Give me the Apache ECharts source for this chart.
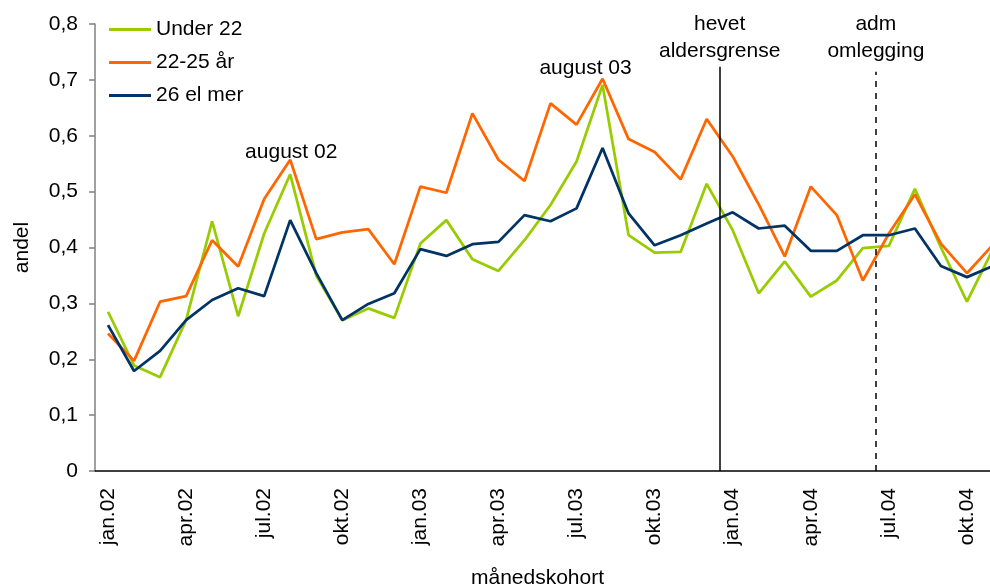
<!DOCTYPE html>
<html>
<head>
<meta charset="utf-8">
<script src="https://cdn.jsdelivr.net/npm/echarts@6/dist/echarts.min.js"></script>
<style>
  html, body { margin: 0; padding: 0; background: #fff; }
  #main { width: 990px; height: 588px; }
</style>
</head>
<body>
<div id="main"></div>
<script>
// månedskohorter jan.02 - nov.04
var months = ['jan', 'feb', 'mar', 'apr', 'mai', 'jun', 'jul', 'aug', 'sep', 'okt', 'nov', 'des']
var categories = []
;['02', '03', '04'].forEach(function (yr) {
  months.forEach(function (m) { categories.push(m + '.' + yr) })
})
categories = categories.slice(0, 35)

var under22 = [0.285, 0.189, 0.168, 0.270, 0.447, 0.277, 0.425, 0.531, 0.350, 0.270, 0.291, 0.274,
  0.407, 0.449, 0.379, 0.358, 0.413, 0.476, 0.554, 0.691, 0.422, 0.391, 0.392, 0.514,
  0.431, 0.318, 0.375, 0.312, 0.341, 0.399, 0.403, 0.505, 0.400, 0.303, 0.397]
var age2225 = [0.246, 0.197, 0.303, 0.313, 0.413, 0.366, 0.487, 0.557, 0.415, 0.427, 0.433, 0.370,
  0.509, 0.498, 0.640, 0.557, 0.519, 0.658, 0.620, 0.702, 0.594, 0.571, 0.522, 0.630,
  0.563, 0.477, 0.384, 0.509, 0.458, 0.341, 0.425, 0.495, 0.407, 0.354, 0.405]
var age26 = [0.261, 0.179, 0.215, 0.270, 0.306, 0.327, 0.313, 0.449, 0.354, 0.270, 0.299, 0.318,
  0.397, 0.385, 0.406, 0.410, 0.458, 0.447, 0.470, 0.578, 0.461, 0.404, 0.422, 0.443,
  0.463, 0.434, 0.439, 0.394, 0.394, 0.422, 0.422, 0.434, 0.367, 0.347, 0.367]

// vertikale markeringer (kategorigrense) og tekster
var eventPos = [24, 30]
var eventText = ['hevet\naldersgrense', 'adm\nomlegging']
var eventTop = [0.7235, 0.7145]
var peakIdx = [7, 19]
var peakText = ['august 02', 'august 03']

var font = 'Liberation Sans, Arial, sans-serif'
var myChart = echarts.init(document.getElementById('main'), null, { renderer: 'canvas' })

var option = {
  backgroundColor: '#fff',
  animation: false,
  textStyle: { fontFamily: font },
  grid: { left: 95, top: 24, right: -16, bottom: 117, containLabel: false, outerBoundsMode: 'none' },
  legend: {
    orient: 'vertical',
    left: 104,
    top: 14,
    itemWidth: 42,
    itemHeight: 3,
    itemGap: 12,
    icon: 'rect',
    textStyle: { fontSize: 21, color: '#000', fontFamily: font, lineHeight: 21 },
    data: ['Under 22', '22-25 år', '26 el mer']
  },
  xAxis: [{
    type: 'category',
    data: categories,
    boundaryGap: true,
    name: 'månedskohort',
    nameLocation: 'middle',
    nameGap: 97,
    nameTextStyle: { fontSize: 21, color: '#000', fontFamily: font, padding: [0, 26, 0, 0] },
    axisLine: { lineStyle: { color: '#000', width: 1.5 } },
    axisTick: { interval: 2, length: 6, lineStyle: { color: '#333', width: 1.5 } },
    axisLabel: { interval: 2, rotate: 90, margin: 17, fontSize: 21, color: '#000', fontFamily: font },
    splitLine: { show: false }
  }, {
    type: 'value',
    min: 0,
    max: 35,
    show: false
  }],
  yAxis: {
    type: 'value',
    min: 0,
    max: 0.8,
    interval: 0.1,
    name: 'andel',
    nameLocation: 'middle',
    nameGap: 62,
    nameTextStyle: { fontSize: 21, color: '#000', fontFamily: font },
    axisLine: { show: true, lineStyle: { color: '#808080', width: 1.5 } },
    axisTick: { show: true, length: 6, lineStyle: { color: '#808080', width: 1.5 } },
    axisLabel: {
      margin: 17, fontSize: 21, color: '#000', fontFamily: font,
      formatter: function (v) { return v === 0 ? '0' : v.toFixed(1).replace('.', ',') }
    },
    splitLine: { show: false }
  },
  series: [
    {
      name: 'Under 22',
      type: 'line',
      data: under22,
      showSymbol: false,
      lineStyle: { color: '#99cc00', width: 2.75 },
      itemStyle: { color: '#99cc00' }
    },
    {
      name: '22-25 år',
      type: 'line',
      data: age2225,
      showSymbol: false,
      lineStyle: { color: '#ff6600', width: 2.75 },
      itemStyle: { color: '#ff6600' },
      markPoint: {
        symbol: 'circle',
        symbolSize: 1,
        itemStyle: { color: 'transparent' },
        label: { show: true, position: 'inside', fontSize: 21, color: '#000', fontFamily: font },
        data: [
          { coord: [peakIdx[0], age2225[peakIdx[0]]], label: { formatter: peakText[0], offset: [1, -8] } },
          { coord: [peakIdx[1], age2225[peakIdx[1]]], label: { formatter: peakText[1], offset: [-17, -11] } }
        ]
      }
    },
    {
      name: '26 el mer',
      type: 'line',
      data: age26,
      showSymbol: false,
      lineStyle: { color: '#003366', width: 2.75 },
      itemStyle: { color: '#003366' }
    },
    {
      type: 'line',
      xAxisIndex: 1,
      data: [],
      silent: true,
      markLine: {
        symbol: 'none',
        silent: true,
        label: {
          show: true, position: 'end', fontSize: 21, color: '#000',
          fontFamily: font, lineHeight: 27, align: 'center'
        },
        data: [
          [{ coord: [eventPos[0], 0], lineStyle: { color: '#000', width: 1.5, type: 'solid' } },
           { coord: [eventPos[0], eventTop[0]], label: { formatter: eventText[0], distance: 2 } }],
          [{ coord: [eventPos[1], 0], lineStyle: { color: '#000', width: 1.5, type: [6, 6] } },
           { coord: [eventPos[1], eventTop[1]], label: { formatter: eventText[1], distance: 7 } }]
        ]
      }
    }
  ]
}
myChart.setOption(option)
</script>
</body>
</html>
